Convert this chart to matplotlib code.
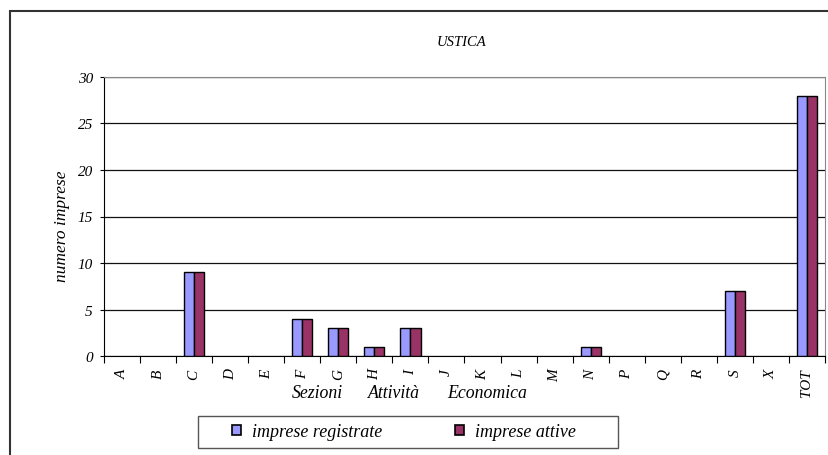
import matplotlib
matplotlib.use("Agg")
import matplotlib.pyplot as plt
import numpy as np
from matplotlib.patches import Rectangle, Patch

categories = ["A", "B", "C", "D", "E", "F", "G", "H", "I", "J", "K", "L", "M",
              "N", "P", "Q", "R", "S", "X", "TOT"]
registrate = [0, 0, 9, 0, 0, 4, 3, 1, 3, 0, 0, 0, 0, 1, 0, 0, 0, 7, 0, 28]
attive = [0, 0, 9, 0, 0, 4, 3, 1, 3, 0, 0, 0, 0, 1, 0, 0, 0, 7, 0, 28]
yticks = [0, 5, 10, 15, 20, 25, 30]
series_names = ["imprese registrate", "imprese attive"]
series_colors = ["#9999FF", "#993366"]

plt.rcParams['font.family'] = ['Liberation Serif', 'DejaVu Serif']

W, H = 829, 456
fig = plt.figure(figsize=(W / 100, H / 100), dpi=100)
fig.patch.set_facecolor("white")

# outer chart border
fig.add_artist(Rectangle((10 / W, -0.05), 1.2, 1 - 12 / H + 0.05,
                         transform=fig.transFigure, fill=False,
                         edgecolor="#333333", linewidth=1.5))

left, right = 104 / W, 825 / W
bottom, top = 1 - 357 / H, 1 - 78 / H
ax = fig.add_axes([left, bottom, right - left, top - bottom])

x = np.arange(len(categories))
bw = 0.28
for vals, off, col in [(registrate, -bw / 2, series_colors[0]),
                       (attive, bw / 2, series_colors[1])]:
    ax.bar(x + off, vals, bw, color=col, edgecolor="black",
           linewidth=[1.0 if v > 0 else 0 for v in vals], zorder=3)

ax.set_xlim(-0.5, len(categories) - 0.5)
ax.set_ylim(0, 30)
ax.set_yticks(yticks)
ax.set_yticklabels([str(v) for v in yticks], fontsize=11, style="italic")
ax.yaxis.grid(True, color="#111111", linewidth=0.9, zorder=0)

ax.set_xticks(x)
ax.set_xticklabels(categories, rotation=90, fontsize=11, style="italic")
ax.tick_params(axis="x", length=0, pad=9)
ax.set_xticks(np.arange(-0.5, len(categories)), minor=True)
ax.tick_params(axis="x", which="minor", length=5, width=0.8, direction="out")
ax.tick_params(axis="y", length=3, width=0.8, direction="out", pad=5)

for s in ["top", "right"]:
    ax.spines[s].set_color("#888888")
ax.spines["left"].set_color("black")
ax.spines["bottom"].set_color("black")

fig.text(62 / W, 1 - 226 / H, "numero imprese", rotation=90, ha="center",
         va="center", fontsize=12.5, style="italic")

fig.text(461 / W, 1 - 43 / H, "USTICA", ha="center", va="center",
         fontsize=10.5, style="italic")

for word, xc in [("Sezioni", 317), ("Attività", 394), ("Economica", 487)]:
    fig.text(xc / W, 1 - 394 / H, word, ha="center", va="center",
             fontsize=12.8, style="italic")

# legend box
fig.add_artist(Rectangle((198 / W, 1 - 449 / H), (618 - 198) / W, 32 / H,
                         transform=fig.transFigure, fill=False,
                         edgecolor="#555555", linewidth=1.0))
handles = [Patch(facecolor=c, edgecolor="black", linewidth=1.2)
           for c in series_colors]
leg = fig.legend(handles, series_names, loc="center",
                 bbox_to_anchor=(404 / W, 1 - 433 / H),
                 ncol=2, frameon=False,
                 prop={"style": "italic", "size": 13},
                 handlelength=0.5, handleheight=0.5, handletextpad=0.6,
                 columnspacing=4.0, borderpad=0.0)

fig.savefig("out.png", dpi=100)
